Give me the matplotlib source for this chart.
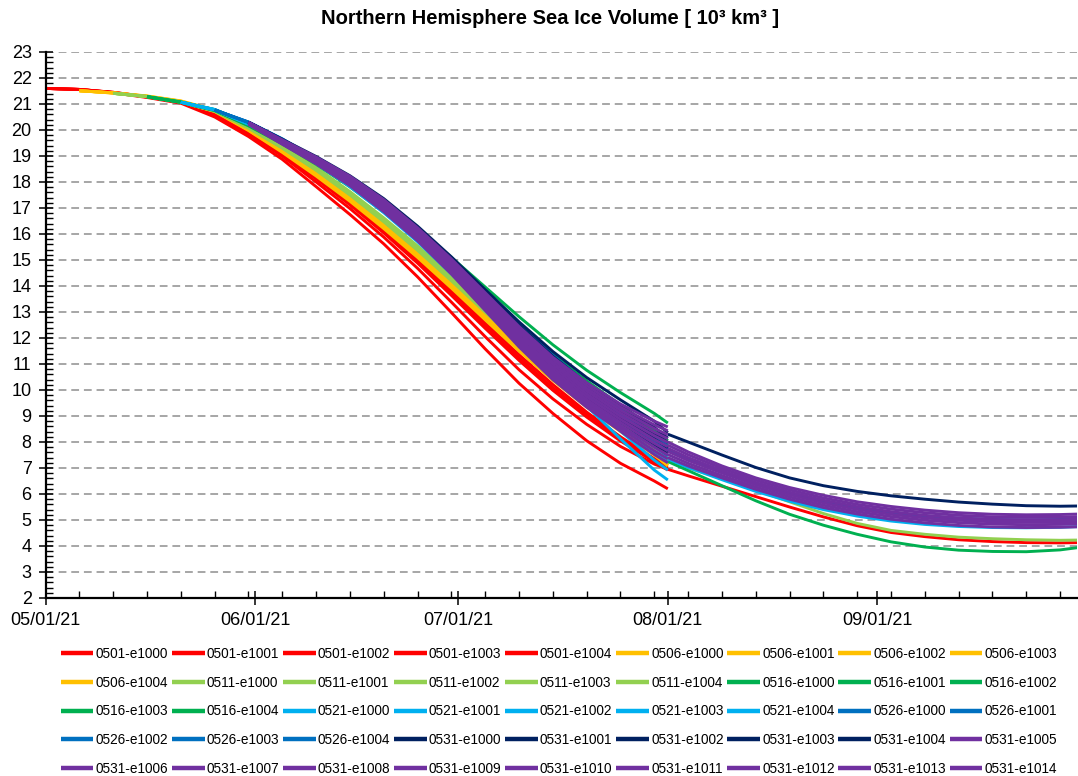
"""
Northern Hemisphere sea ice volume - ensemble forecasts, May-Sep 2021
"""
import matplotlib
matplotlib.use('Agg')
import matplotlib.pyplot as plt
from matplotlib.ticker import FixedLocator, MultipleLocator

plt.rcParams['font.family'] = ['Liberation Sans', 'DejaVu Sans']

# x values are days after 05/01/21
X_TICK_DAYS = [0, 31, 61, 92, 123]
X_TICK_LABELS = ['05/01/21', '06/01/21', '07/01/21', '08/01/21', '09/01/21']

START_DAYS = {'0501': 0, '0506': 5, '0511': 10, '0516': 15, '0521': 20, '0526': 25, '0531': 30}
SWITCH_DAY = 92          # 08/01/21
POST_DAYS = [92, 95, 100, 105, 110, 115, 120, 125, 130, 135, 140, 145, 150, 153]

# forecast runs, values every 5 days from start date up to 08/01
RUN_0501 = [
    [21.60, 21.56, 21.43, 21.25, 21.03, 20.50, 19.75, 18.87, 17.82, 16.75, 15.62, 14.35, 12.98, 11.58, 10.26, 9.10, 8.05, 7.18, 6.50, 6.20],
    [21.60, 21.56, 21.44, 21.27, 21.06, 20.56, 19.84, 18.99, 18.00, 16.98, 15.88, 14.68, 13.38, 12.05, 10.78, 9.66, 8.68, 7.83, 7.15, 6.95],
    [21.60, 21.56, 21.45, 21.28, 21.08, 20.62, 19.93, 19.14, 18.22, 17.24, 16.18, 15.04, 13.83, 12.58, 11.36, 10.21, 9.15, 8.20, 7.36, 7.08],
    [21.60, 21.56, 21.45, 21.28, 21.07, 20.60, 19.90, 19.10, 18.17, 17.18, 16.11, 14.96, 13.73, 12.47, 11.24, 10.09, 9.05, 8.12, 7.30, 7.00],
    [21.60, 21.56, 21.44, 21.27, 21.07, 20.58, 19.87, 19.06, 18.12, 17.12, 16.04, 14.88, 13.64, 12.37, 11.14, 9.99, 8.96, 8.04, 7.24, 6.92],
]
RUN_0506 = [
    [21.51, 21.43, 21.30, 21.10, 20.74, 20.02, 19.20, 18.30, 17.34, 16.30, 15.20, 14.02, 12.80, 11.60, 10.46, 9.42, 8.46, 7.54, 7.12],
    [21.51, 21.43, 21.31, 21.12, 20.77, 20.07, 19.26, 18.37, 17.42, 16.39, 15.30, 14.12, 12.90, 11.70, 10.56, 9.50, 8.52, 7.57, 7.15],
    [21.51, 21.42, 21.29, 21.08, 20.71, 19.98, 19.14, 18.23, 17.26, 16.21, 15.10, 13.92, 12.70, 11.50, 10.37, 9.34, 8.40, 7.50, 7.08],
    [21.51, 21.43, 21.30, 21.11, 20.75, 20.04, 19.23, 18.34, 17.38, 16.35, 15.25, 14.07, 12.85, 11.65, 10.51, 9.46, 8.49, 7.55, 7.14],
    [21.51, 21.42, 21.29, 21.09, 20.72, 20.00, 19.17, 18.27, 17.30, 16.26, 15.15, 13.97, 12.75, 11.55, 10.42, 9.38, 8.43, 7.52, 7.10],
]
RUN_0511 = [
    [21.41, 21.29, 21.08, 20.74, 20.10, 19.34, 18.50, 17.56, 16.54, 15.45, 14.29, 13.08, 11.89, 10.79, 9.76, 8.78, 7.70, 7.28],
    [21.41, 21.29, 21.09, 20.76, 20.14, 19.39, 18.56, 17.63, 16.62, 15.54, 14.39, 13.18, 11.99, 10.89, 9.86, 8.88, 7.80, 7.38],
    [21.41, 21.28, 21.07, 20.72, 20.07, 19.30, 18.45, 17.50, 16.47, 15.37, 14.20, 12.99, 11.80, 10.70, 9.68, 8.70, 7.63, 7.22],
    [21.41, 21.29, 21.08, 20.75, 20.12, 19.36, 18.53, 17.60, 16.58, 15.49, 14.34, 13.13, 11.94, 10.84, 9.81, 8.83, 7.75, 7.32],
    [21.41, 21.28, 21.07, 20.73, 20.08, 19.32, 18.47, 17.53, 16.50, 15.41, 14.25, 13.04, 11.85, 10.75, 9.72, 8.74, 7.66, 7.25],
]
RUN_0516 = [
    [21.28, 21.07, 20.76, 20.18, 19.50, 18.72, 17.86, 16.90, 15.84, 14.68, 13.48, 12.30, 11.18, 10.17, 9.24, 8.30, 7.85],
    [21.28, 21.07, 20.77, 20.20, 19.54, 18.78, 17.94, 17.00, 15.96, 14.82, 13.64, 12.48, 11.36, 10.35, 9.42, 8.50, 8.05],
    [21.28, 21.06, 20.75, 20.16, 19.47, 18.68, 17.81, 16.84, 15.77, 14.60, 13.40, 12.22, 11.10, 10.09, 9.16, 8.20, 7.75],
    [21.28, 21.08, 20.79, 20.24, 19.60, 18.88, 18.08, 17.18, 16.18, 15.10, 13.96, 12.82, 11.74, 10.76, 9.90, 9.10, 8.73],
    [21.28, 21.07, 20.76, 20.19, 19.52, 18.75, 17.90, 16.95, 15.90, 14.75, 13.56, 12.39, 11.27, 10.26, 9.33, 8.40, 7.95],
]
RUN_0521 = [
    [21.07, 20.77, 20.22, 19.52, 18.72, 17.82, 16.82, 15.70, 14.46, 13.18, 11.90, 10.64, 9.38, 8.12, 6.92, 6.54],
    [21.07, 20.78, 20.25, 19.57, 18.79, 17.91, 16.94, 15.86, 14.65, 13.40, 12.17, 10.99, 9.88, 8.82, 7.82, 7.45],
    [21.07, 20.78, 20.24, 19.55, 18.76, 17.87, 16.88, 15.78, 14.56, 13.30, 12.06, 10.86, 9.72, 8.63, 7.60, 7.22],
    [21.07, 20.79, 20.27, 19.60, 18.84, 17.98, 17.03, 15.97, 14.78, 13.55, 12.33, 11.16, 10.06, 9.02, 8.04, 7.68],
    [21.07, 20.78, 20.23, 19.54, 18.74, 17.85, 16.86, 15.76, 14.53, 13.26, 12.01, 10.79, 9.60, 8.42, 7.30, 6.92],
]
RUN_0526 = [
    [20.77, 20.30, 19.64, 18.88, 18.04, 17.10, 16.05, 14.88, 13.63, 12.38, 11.18, 10.07, 9.05, 8.07, 7.72],
    [20.77, 20.31, 19.66, 18.91, 18.08, 17.16, 16.13, 14.98, 13.75, 12.52, 11.34, 10.25, 9.25, 8.29, 7.95],
    [20.77, 20.29, 19.62, 18.85, 18.00, 17.04, 15.97, 14.78, 13.51, 12.24, 11.02, 9.89, 8.85, 7.85, 7.48],
    [20.77, 20.30, 19.65, 18.90, 18.06, 17.13, 16.09, 14.93, 13.69, 12.45, 11.26, 10.16, 9.15, 8.17, 7.83],
    [20.77, 20.29, 19.63, 18.87, 18.02, 17.07, 16.01, 14.83, 13.57, 12.31, 11.10, 9.98, 8.95, 7.96, 7.60],
]
RUN_0531 = [
    [20.30, 19.64, 18.98, 18.24, 17.36, 16.30, 15.12, 13.86, 12.62, 11.48, 10.48, 9.62, 8.80, 8.36],
    [20.28, 19.55, 18.82, 18.00, 17.04, 15.94, 14.70, 13.38, 12.06, 10.82, 9.72, 8.76, 7.92, 7.57],
    [20.29, 19.60, 18.90, 18.12, 17.20, 16.12, 14.92, 13.62, 12.34, 11.14, 10.08, 9.16, 8.34, 7.98],
    [20.29, 19.58, 18.86, 18.06, 17.12, 16.03, 14.81, 13.50, 12.20, 10.98, 9.90, 8.96, 8.12, 7.78],
    [20.30, 19.62, 18.94, 18.18, 17.28, 16.21, 15.02, 13.74, 12.48, 11.30, 10.26, 9.38, 8.56, 8.15],
    [20.30, 19.62, 18.96, 18.22, 17.32, 16.24, 15.04, 13.74, 12.44, 11.26, 10.28, 9.46, 8.80, 8.58],
    [20.29, 19.60, 18.93, 18.18, 17.27, 16.18, 14.98, 13.67, 12.36, 11.17, 10.17, 9.34, 8.66, 8.43],
    [20.28, 19.58, 18.90, 18.14, 17.22, 16.13, 14.91, 13.59, 12.27, 11.07, 10.06, 9.22, 8.52, 8.28],
    [20.27, 19.56, 18.87, 18.10, 17.17, 16.07, 14.85, 13.52, 12.19, 10.98, 9.96, 9.11, 8.38, 8.13],
    [20.26, 19.54, 18.84, 18.06, 17.12, 16.02, 14.79, 13.45, 12.10, 10.88, 9.85, 8.99, 8.24, 7.98],
    [20.26, 19.53, 18.82, 18.02, 17.07, 15.96, 14.72, 13.37, 12.01, 10.78, 9.74, 8.87, 8.09, 7.82],
    [20.25, 19.51, 18.79, 17.98, 17.02, 15.91, 14.66, 13.29, 11.92, 10.68, 9.63, 8.75, 7.95, 7.66],
    [20.24, 19.49, 18.76, 17.94, 16.96, 15.85, 14.59, 13.21, 11.84, 10.59, 9.53, 8.63, 7.80, 7.50],
    [20.23, 19.47, 18.73, 17.90, 16.91, 15.80, 14.52, 13.14, 11.75, 10.49, 9.44, 8.53, 7.66, 7.35],
    [20.22, 19.45, 18.70, 17.86, 16.86, 15.74, 14.46, 13.06, 11.66, 10.40, 9.34, 8.42, 7.52, 7.20],
]

# members that carry on after 08/01 (values at POST_DAYS)
POST_RUNS = {
    '0501-e1001': [6.95, 6.70, 6.30, 5.90, 5.50, 5.12, 4.78, 4.52, 4.36, 4.24, 4.17, 4.13, 4.12, 4.13],
    '0511-e1000': [7.30, 7.00, 6.60, 6.15, 5.70, 5.25, 4.87, 4.60, 4.45, 4.34, 4.28, 4.24, 4.22, 4.23],
    '0516-e1000': [7.25, 6.90, 6.32, 5.74, 5.22, 4.80, 4.45, 4.16, 3.96, 3.84, 3.79, 3.78, 3.85, 3.95],
    '0521-e1000': [7.35, 7.02, 6.55, 6.10, 5.72, 5.40, 5.15, 4.96, 4.83, 4.75, 4.71, 4.70, 4.72, 4.75],
    '0526-e1000': [7.70, 7.35, 6.85, 6.40, 6.02, 5.70, 5.45, 5.27, 5.15, 5.07, 5.02, 5.00, 5.02, 5.05],
    '0531-e1000': [8.30, 8.00, 7.50, 7.02, 6.62, 6.32, 6.10, 5.93, 5.80, 5.69, 5.61, 5.55, 5.53, 5.54],
    '0531-e1005': [8.00, 7.62, 7.08, 6.62, 6.25, 5.95, 5.70, 5.52, 5.38, 5.28, 5.22, 5.20, 5.21, 5.23],
    '0531-e1007': [7.88, 7.51, 6.99, 6.53, 6.16, 5.85, 5.60, 5.42, 5.28, 5.18, 5.12, 5.10, 5.11, 5.13],
    '0531-e1009': [7.76, 7.40, 6.90, 6.44, 6.07, 5.76, 5.51, 5.32, 5.18, 5.08, 5.02, 5.00, 5.01, 5.03],
    '0531-e1011': [7.64, 7.29, 6.81, 6.36, 5.98, 5.66, 5.41, 5.22, 5.08, 4.99, 4.93, 4.91, 4.92, 4.94],
    '0531-e1012': [7.52, 7.18, 6.71, 6.27, 5.89, 5.57, 5.32, 5.13, 4.99, 4.90, 4.84, 4.82, 4.83, 4.85],
    '0531-e1014': [7.40, 7.08, 6.62, 6.18, 5.80, 5.48, 5.23, 5.03, 4.89, 4.79, 4.73, 4.71, 4.72, 4.74],
}

RUNS = {'0501': RUN_0501, '0506': RUN_0506, '0511': RUN_0511, '0516': RUN_0516,
        '0521': RUN_0521, '0526': RUN_0526, '0531': RUN_0531}
COLORS = {'0501': '#FF0000', '0506': '#FFC000', '0511': '#92D050', '0516': '#00B050',
          '0521': '#00B0F0', '0526': '#0070C0'}
NAVY = '#002060'
PURPLE = '#7030A0'

W, H = 1078, 776
fig = plt.figure(figsize=(W / 100, H / 100), dpi=100)
ax = fig.add_axes([45.6 / W, (H - 598) / H, (1077 - 45.6) / W, (598 - 52) / H])

handles = []
for start, runs in RUNS.items():
    s = START_DAYS[start]
    days = list(range(s, 91, 5)) + [SWITCH_DAY]
    for i, vals in enumerate(runs):
        name = f'{start}-e{1000 + i}'
        if start == '0531':
            color = NAVY if i < 5 else PURPLE
        else:
            color = COLORS[start]
        line, = ax.plot(days, vals, color=color, linewidth=2.1,
                        solid_capstyle='butt', label=name)
        handles.append(line)
        if name in POST_RUNS:
            ax.plot(POST_DAYS, POST_RUNS[name], color=color, linewidth=2.1,
                    solid_capstyle='butt')

ax.set_xlim(0, 152.5)
ax.set_ylim(2, 23)
ax.xaxis.set_major_locator(FixedLocator(X_TICK_DAYS))
ax.set_xticklabels(X_TICK_LABELS)
ax.xaxis.set_minor_locator(MultipleLocator(5))
ax.yaxis.set_major_locator(MultipleLocator(1))
ax.yaxis.set_minor_locator(MultipleLocator(0.2))

ax.yaxis.grid(True, which='major', color='#A6A6A6', linewidth=1.4, linestyle=(0, (4, 2.5)))
ax.set_axisbelow(True)
for side in ('top', 'right'):
    ax.spines[side].set_visible(False)
for side in ('left', 'bottom'):
    ax.spines[side].set_linewidth(1.6)

ax.tick_params(which='major', direction='inout', length=10, width=1.1, labelsize=13, pad=5)
ax.tick_params(which='minor', direction='in', length=5, width=1.0)

fig.text(550 / W, 1 - 18 / H, 'Northern Hemisphere Sea Ice Volume [ 10³ km³ ]',
         ha='center', va='center', fontsize=14.5, fontweight='bold')

# Excel fills the legend row by row, matplotlib column by column
ncol, nrow = 9, 5
order = [r * ncol + c for c in range(ncol) for r in range(nrow)]
leg = fig.legend([handles[k] for k in order], [handles[k].get_label() for k in order],
                 loc='upper left', bbox_to_anchor=(60.7 / W, 1 - 647 / H), ncol=ncol,
                 frameon=False, fontsize=9.8, handlelength=2.4, handletextpad=0.15,
                 columnspacing=0.28, labelspacing=1.08, borderpad=0, borderaxespad=0)
for h in leg.get_lines():
    h.set_linewidth(3.2)

fig.savefig('out.png', dpi=100)
